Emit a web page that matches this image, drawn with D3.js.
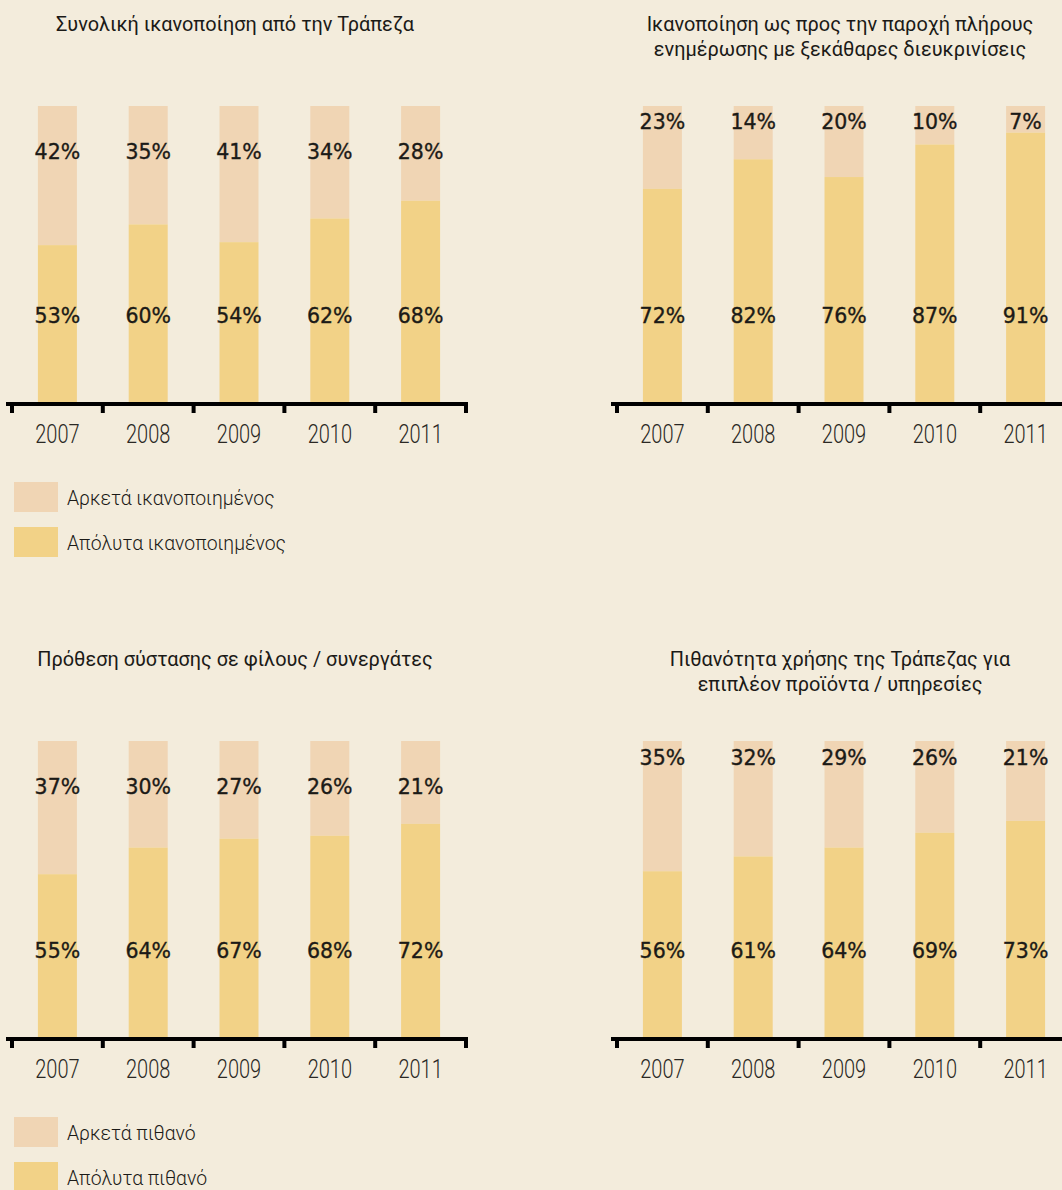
<!DOCTYPE html>
<html><head><meta charset="utf-8">
<script src="https://cdn.jsdelivr.net/npm/d3@7"></script>
<style>
html,body{margin:0;padding:0;background:#F3ECDC;}
svg{display:block;}
</style></head><body>
<svg id="chart" width="1062" height="1190"></svg>
<script>
// ---- data ----
const years = ["2007", "2008", "2009", "2010", "2011"];

const title1 = ["Συνολική ικανοποίηση από την Τράπεζα"];
const title2 = ["Ικανοποίηση ως προς την παροχή πλήρους", "ενημέρωσης με ξεκάθαρες διευκρινίσεις"];
const title3 = ["Πρόθεση σύστασης σε φίλους / συνεργάτες"];
const title4 = ["Πιθανότητα χρήσης της Τράπεζας για", "επιπλέον προϊόντα / υπηρεσίες"];

const fairly1 = [42, 35, 41, 34, 28];
const fully1  = [53, 60, 54, 62, 68];
const fairly2 = [23, 14, 20, 10, 7];
const fully2  = [72, 82, 76, 87, 91];
const fairly3 = [37, 30, 27, 26, 21];
const fully3  = [55, 64, 67, 68, 72];
const fairly4 = [35, 32, 29, 26, 21];
const fully4  = [56, 61, 64, 69, 73];

const legendSatisfied = ["Αρκετά ικανοποιημένος", "Απόλυτα ικανοποιημένος"];
const legendLikely    = ["Αρκετά πιθανό", "Απόλυτα πιθανό"];

// ---- styles / layout ----
const BG = "#F3ECDC", LIGHT = "#F0D5B4", DARK = "#F2D287", INK = "#1b1a17";
const TEXT_FONT = "Roboto, 'Noto Sans', sans-serif";
const NUM_FONT = "'DejaVu Sans', 'Noto Sans', sans-serif";

const panels = [
  {title: title1, fairly: fairly1, fully: fully1, ox: 0,   oy: 0,   topDy: 45, legend: legendSatisfied},
  {title: title2, fairly: fairly2, fully: fully2, ox: 605, oy: 0,   topDy: 15, legend: null},
  {title: title3, fairly: fairly3, fully: fully3, ox: 0,   oy: 635, topDy: 45, legend: legendLikely},
  {title: title4, fairly: fairly4, fully: fully4, ox: 605, oy: 635, topDy: 16, legend: null}
];

const svg = d3.select("#chart");
svg.append("rect").attr("width", 1062).attr("height", 1190).attr("fill", BG);

const x = d3.scaleBand().domain(years).range([12, 466]).padding(0);
const y = d3.scaleLinear().domain([0, 100]).range([402, 106]);
const barW = 39;
const axisY = 404;

panels.forEach(p => {
  const g = svg.append("g").attr("transform", `translate(${p.ox},${p.oy})`);
  const cx = (x.range()[0] + x.range()[1]) / 2 - 4;

  // title
  const t = g.append("text")
    .attr("text-anchor", "middle")
    .attr("font-family", TEXT_FONT)
    .attr("font-size", 19.9)
    .attr("fill", INK);
  p.title.forEach((line, i) => {
    t.append("tspan").attr("x", cx).attr("y", 31 + i * 25).text(line);
  });

  const rows = years.map((yr, i) => ({yr, fairly: p.fairly[i], fully: p.fully[i]}));
  const bx = d => x(d.yr) + x.bandwidth() / 2 - barW / 2;

  // light part: from fully to 100%
  g.selectAll(".light").data(rows).join("rect")
    .attr("x", bx).attr("width", barW)
    .attr("y", y(100))
    .attr("height", d => y(d.fully) - y(100))
    .attr("fill", LIGHT);

  // dark part: 0 to fully
  g.selectAll(".dark").data(rows).join("rect")
    .attr("x", bx).attr("width", barW)
    .attr("y", d => y(d.fully))
    .attr("height", d => y(0) - y(d.fully))
    .attr("fill", DARK);

  // labels
  g.selectAll(".lt").data(rows).join("text")
    .attr("x", d => x(d.yr) + x.bandwidth() / 2)
    .attr("y", y(100) + p.topDy + 7.8)
    .attr("text-anchor", "middle")
    .attr("font-family", NUM_FONT)
    .attr("font-size", 20.5).attr("fill", INK)
    .attr("stroke", INK).attr("stroke-width", 0.35)
    .text(d => d.fairly + "%");
  g.selectAll(".lb").data(rows).join("text")
    .attr("x", d => x(d.yr) + x.bandwidth() / 2)
    .attr("y", y(0) - 87 + 7.8)
    .attr("text-anchor", "middle")
    .attr("font-family", NUM_FONT)
    .attr("font-size", 20.5).attr("fill", INK)
    .attr("stroke", INK).attr("stroke-width", 0.35)
    .text(d => d.fully + "%");

  // axis line
  g.append("line")
    .attr("x1", x.range()[0] - 6).attr("x2", x.range()[1] + 2)
    .attr("y1", axisY).attr("y2", axisY)
    .attr("stroke", "#000").attr("stroke-width", 4);
  const bounds = years.map(d => x(d)).concat([x.range()[1]]);
  g.selectAll(".tk").data(bounds).join("line")
    .attr("x1", d => d).attr("x2", d => d)
    .attr("y1", axisY).attr("y2", axisY + 9)
    .attr("stroke", "#000").attr("stroke-width", 4);

  // year labels via d3 axis
  const ax = g.append("g").attr("transform", `translate(0,${axisY})`)
    .call(d3.axisBottom(x).tickSize(0).tickPadding(0));
  ax.select(".domain").remove();
  ax.selectAll("text")
    .attr("y", 39).attr("dy", null)
    .attr("font-family", TEXT_FONT).attr("font-weight", 300)
    .attr("font-size", 25).attr("fill", "#2a2824")
    .attr("transform", "scale(0.8,1)");

  // legend
  if (p.legend) {
    const colors = [LIGHT, DARK];
    const lg = g.selectAll(".lg").data(p.legend).join("g")
      .attr("transform", (d, i) => `translate(14,${482 + i * 45})`);
    lg.append("rect").attr("width", 44).attr("height", 30).attr("fill", (d, i) => colors[i]);
    lg.append("text").attr("x", 53).attr("y", 23)
      .attr("font-family", TEXT_FONT).attr("font-weight", 300)
      .attr("font-size", 19.4).attr("fill", INK)
      .text(d => d);
  }
});
</script>
</body></html>
